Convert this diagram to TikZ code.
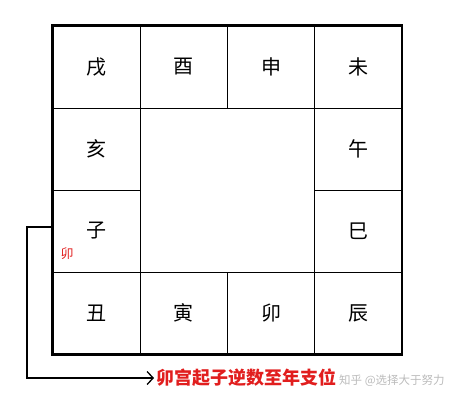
\documentclass[tikz,border=0pt]{standalone}
\usepackage{fontspec}
\usetikzlibrary{arrows.meta}
\newfontfamily\cjk{Noto Sans CJK SC}
\definecolor{note_red}{RGB}{225, 30, 30}
\definecolor{mark_gray}{RGB}{170, 170, 170}

\begin{document}
\begin{tikzpicture}[x=1pt, y=-1pt,
  cell/.style={draw, line width=0.8pt, minimum width=87.25pt, minimum height=82pt,
    inner sep=0pt, font=\cjk\fontsize{20}{20}\selectfont}]
\useasboundingbox (0,0) rectangle (452,406);

% twelve branches round the border
\foreach \name/\txt/\cx/\cy in {xu/戌/0/0, you/酉/1/0, shen/申/2/0, wei/未/3/0,
    hai/亥/0/1, wu/午/3/1, zi/子/0/2, si/巳/3/2,
    chou/丑/0/3, yin/寅/1/3, mao/卯/2/3, chen/辰/3/3}
  \node[cell] (\name) at ({96.6+87.25*\cx}, {67+82*\cy}) {\txt};

\draw[line width=2.2pt] (xu.north west) rectangle (chen.south east);

\node[text=note_red, font=\cjk\fontsize{13}{13}\selectfont] (start) at (67,254) {卯};

\node[anchor=west, text=note_red, inner sep=2pt,
  font=\cjk\bfseries\fontsize{18}{18}\selectfont] (note) at (154,378) {卯宫起子逆数至年支位};
\node[anchor=west, text=mark_gray, opacity=0.8, inner sep=0pt,
  font=\cjk\fontsize{11.5}{11.5}\selectfont] (mark) at (339,381) {知乎 @选择大于努力};

\coordinate (hook) at (53,227);
\draw[line width=1.6pt, -{Straight Barb[length=6pt,width=13pt,line width=1.3pt]}]
  (hook) -- ++(-26,0) |- (note.west);
\end{tikzpicture}
\end{document}
